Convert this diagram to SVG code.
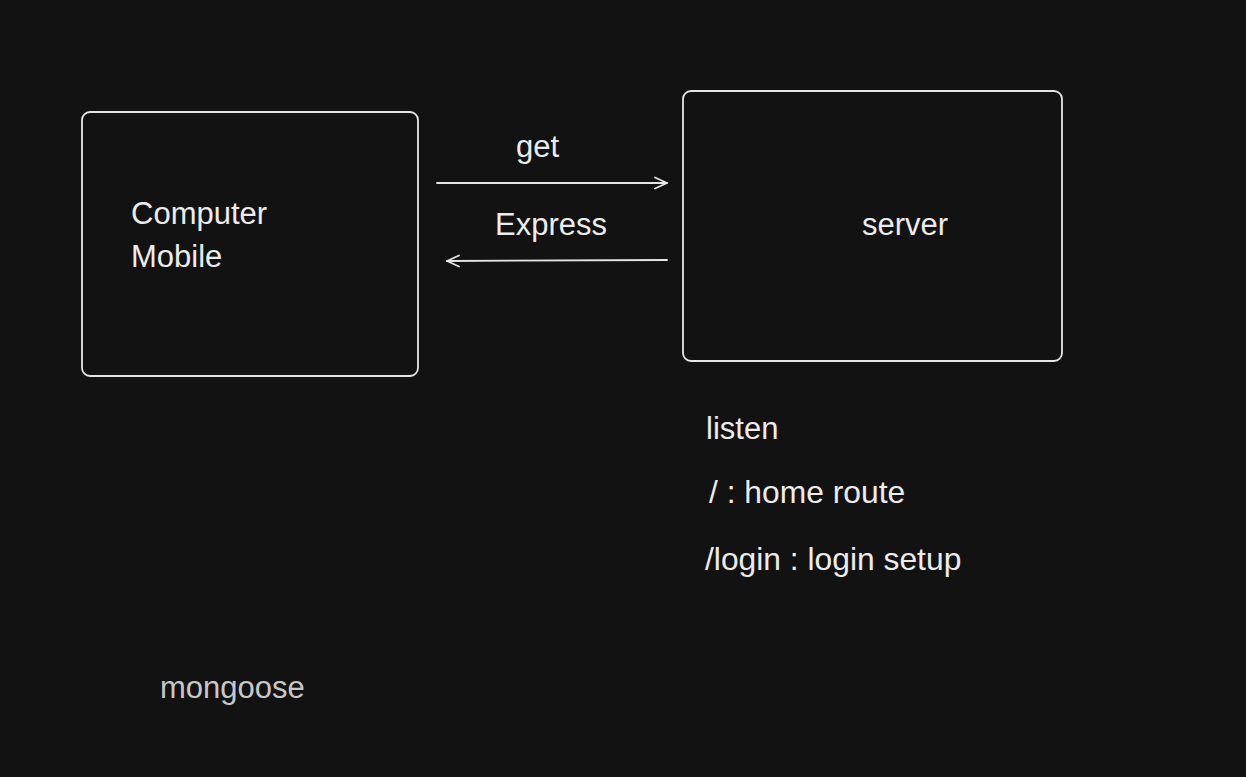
<svg xmlns="http://www.w3.org/2000/svg" width="1246" height="777" viewBox="0 0 1246 777">
<style>
.box{fill:none;stroke:#e6e6e6;stroke-width:1.8}
.t{font-family:"Liberation Sans",Arial,sans-serif;font-size:31px;fill:#ececec}
.w{font-size:31.8px}
.m{fill:#c8c8c8}
.c{fill:none;stroke:#e6e6e6;stroke-width:1.8;stroke-linecap:round;stroke-linejoin:round}
</style>
<defs>
<marker id="ah" viewBox="0 0 14 14" refX="13" refY="7" markerWidth="14" markerHeight="14" markerUnits="userSpaceOnUse" orient="auto">
<path d="M1,1.5 L13,7 L1,12.5" fill="none" stroke="#e6e6e6" stroke-width="1.8" stroke-linecap="round" stroke-linejoin="round"/>
</marker>
</defs>
<rect width="1246" height="777" fill="#121212"/>
<g id="client">
<rect class="box" x="82" y="112" width="336" height="264" rx="8"/>
<text class="t" x="131" y="224">Computer</text>
<text class="t" x="131" y="267">Mobile</text>
</g>
<g id="server">
<rect class="box" x="683" y="91" width="379" height="270" rx="8"/>
<text class="t" x="862" y="235">server</text>
</g>
<g id="connectors">
<line class="c" x1="437" y1="183" x2="667" y2="183" marker-end="url(#ah)"/>
<text class="t" x="516" y="157">get</text>
<line class="c" x1="667" y1="260" x2="447" y2="261" marker-end="url(#ah)"/>
<text class="t" x="495" y="235">Express</text>
</g>
<g id="notes">
<text class="t" x="706" y="439">listen</text>
<text class="t w" x="709" y="503">/ : home route</text>
<text class="t w" x="705" y="570">/login : login setup</text>
<text class="t m" x="160" y="698">mongoose</text>
</g>
</svg>
